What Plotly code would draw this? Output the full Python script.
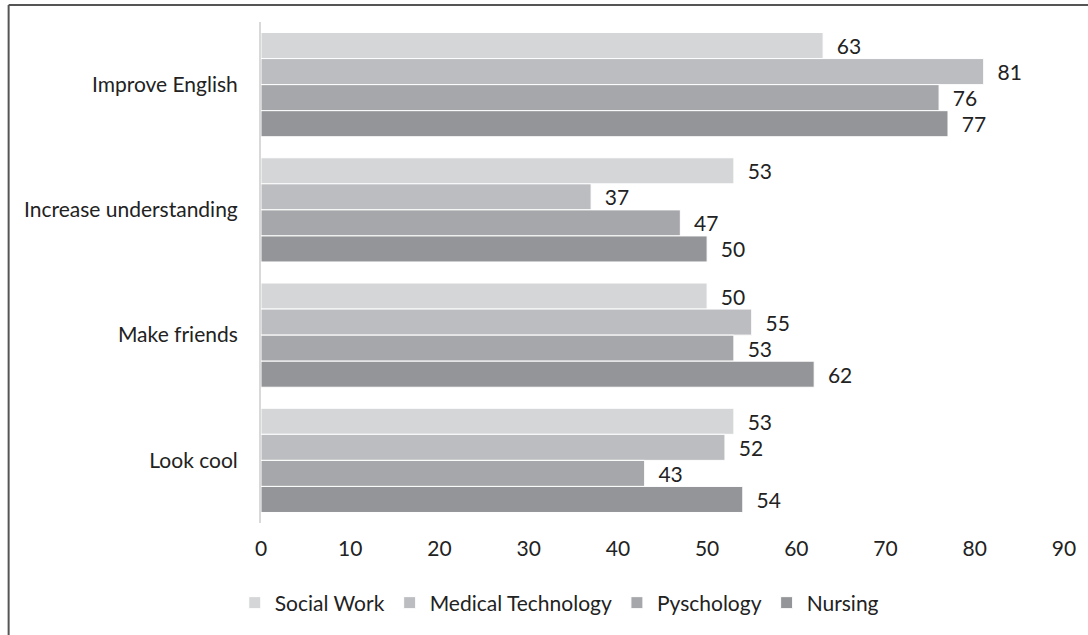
import plotly.graph_objects as go

categories = ["Improve English", "Increase understanding", "Make friends", "Look cool"]
series_names = ["Social Work", "Medical Technology", "Pyschology", "Nursing"]
social_work = [63, 53, 50, 53]
medical_technology = [81, 37, 55, 52]
psychology = [76, 47, 53, 43]
nursing = [77, 50, 62, 54]
x_ticks = [0, 10, 20, 30, 40, 50, 60, 70, 80, 90]

values = [social_work, medical_technology, psychology, nursing]
colors = ["#d5d6d8", "#bcbdc0", "#a6a7aa", "#939598"]

W, H = 1088, 635
L, R, T, B = 261, 1066, 22, 523
FONT = "Lato"
FS = 21

fig = go.Figure()
for name, vals, col in zip(series_names, values, colors):
    fig.add_trace(go.Bar(
        y=categories, x=vals, name=name, orientation="h",
        marker=dict(color=col, line=dict(color="white", width=1)),
        text=["\u00a0\u00a0" + str(v) for v in vals], textposition="outside",
        textfont=dict(size=FS, color="#222222", family=FONT),
        cliponaxis=False,
    ))

def px_x(p):
    return (p - L) / (R - L)

def px_y(p):
    return (B - p) / (B - T)

fig.update_layout(
    width=W, height=H,
    margin=dict(l=L, r=W - R, t=T, b=H - B),
    paper_bgcolor="white", plot_bgcolor="white",
    barmode="group", bargap=0.168, bargroupgap=0,
    font=dict(family=FONT, size=FS, color="#222222"),
    xaxis=dict(range=[0, 90], tickvals=x_ticks, showgrid=False, zeroline=False,
               showline=False, ticks="", tickfont=dict(size=FS), fixedrange=True,
               ticklabelstandoff=11),
    yaxis=dict(autorange="reversed", showgrid=False, zeroline=False,
               showline=True, linecolor="#d9d9d9", linewidth=2, ticks="",
               tickfont=dict(size=FS), ticklabelstandoff=17),
    legend=dict(orientation="h", x=px_x(560), xanchor="center", y=px_y(603), yanchor="middle",
                font=dict(size=FS), traceorder="normal", itemwidth=30),
    showlegend=True,
    shapes=[
        dict(type="line", xref="paper", yref="paper", x0=px_x(8), x1=px_x(1095),
             y0=px_y(5), y1=px_y(5), line=dict(color="#555555", width=2)),
        dict(type="line", xref="paper", yref="paper", x0=px_x(8), x1=px_x(8),
             y0=px_y(5), y1=px_y(640), line=dict(color="#555555", width=2)),
    ],
)

fig.write_html("out.html")
